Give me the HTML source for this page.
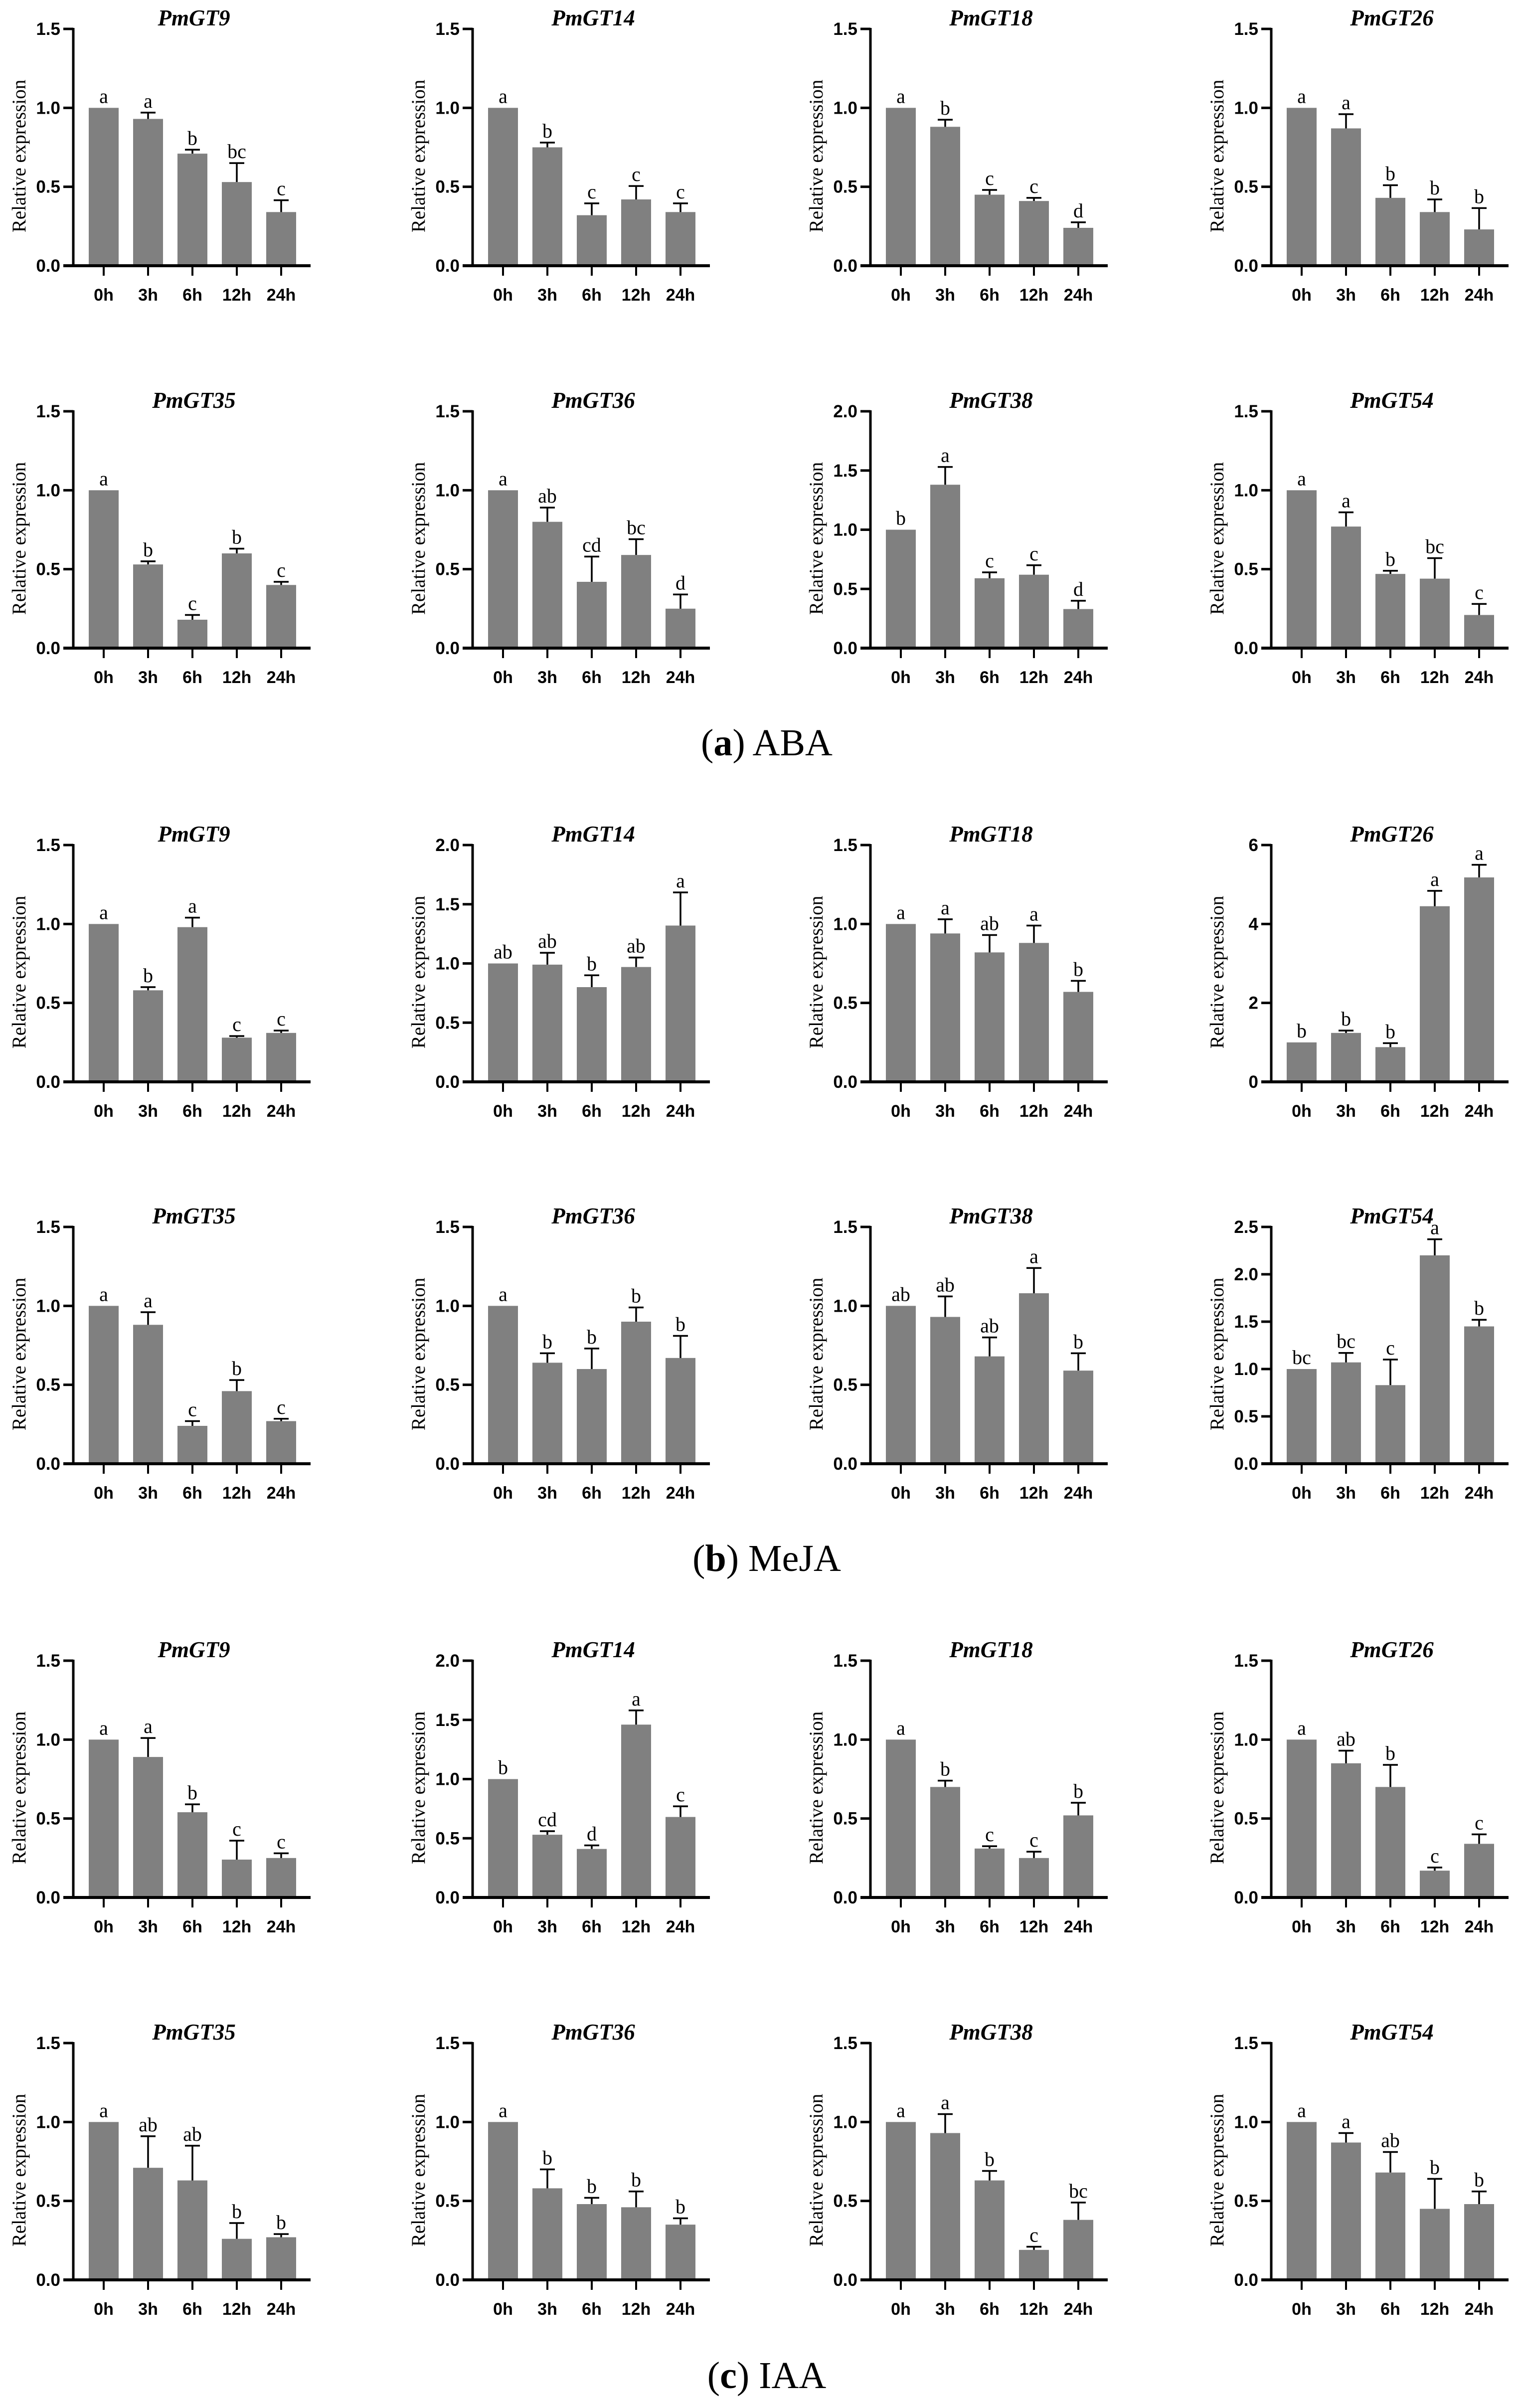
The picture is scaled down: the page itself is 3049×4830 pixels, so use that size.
<!DOCTYPE html>
<html><head><meta charset="utf-8"><style>
html,body{margin:0;padding:0;background:#fff;}
svg{display:block;}
</style></head><body>
<svg id="chart" xmlns="http://www.w3.org/2000/svg" width="3049" height="4830" viewBox="0 0 3049 4830"></svg>
<script>
const timeLabels = ["0h","3h","6h","12h","24h"];
const panelGenes = [
 "PmGT9","PmGT14","PmGT18","PmGT26","PmGT35","PmGT36","PmGT38","PmGT54",
 "PmGT9","PmGT14","PmGT18","PmGT26","PmGT35","PmGT36","PmGT38","PmGT54",
 "PmGT9","PmGT14","PmGT18","PmGT26","PmGT35","PmGT36","PmGT38","PmGT54"];
const panelMax = [1.5,1.5,1.5,1.5,1.5,1.5,2.0,1.5, 1.5,2.0,1.5,6,1.5,1.5,1.5,2.5, 1.5,2.0,1.5,1.5,1.5,1.5,1.5,1.5];
const panelStep = [0.5,0.5,0.5,0.5,0.5,0.5,0.5,0.5, 0.5,0.5,0.5,2,0.5,0.5,0.5,0.5, 0.5,0.5,0.5,0.5,0.5,0.5,0.5,0.5];
const panelValues = [
 [1.0,0.93,0.71,0.53,0.34],[1.0,0.75,0.32,0.42,0.34],[1.0,0.88,0.45,0.41,0.24],[1.0,0.87,0.43,0.34,0.23],
 [1.0,0.53,0.18,0.60,0.40],[1.0,0.80,0.42,0.59,0.25],[1.0,1.38,0.59,0.62,0.33],[1.0,0.77,0.47,0.44,0.21],
 [1.0,0.58,0.98,0.28,0.31],[1.0,0.99,0.80,0.97,1.32],[1.0,0.94,0.82,0.88,0.57],[1.0,1.24,0.88,4.45,5.18],
 [1.0,0.88,0.24,0.46,0.27],[1.0,0.64,0.60,0.90,0.67],[1.0,0.93,0.68,1.08,0.59],[1.0,1.07,0.83,2.20,1.45],
 [1.0,0.89,0.54,0.24,0.25],[1.0,0.53,0.41,1.46,0.68],[1.0,0.70,0.31,0.25,0.52],[1.0,0.85,0.70,0.17,0.34],
 [1.0,0.71,0.63,0.26,0.27],[1.0,0.58,0.48,0.46,0.35],[1.0,0.93,0.63,0.19,0.38],[1.0,0.87,0.68,0.45,0.48]];
const panelErrors = [
 [0,0.04,0.025,0.12,0.075],[0,0.03,0.075,0.085,0.055],[0,0.045,0.03,0.02,0.035],[0,0.09,0.08,0.08,0.135],
 [0,0.02,0.03,0.03,0.02],[0,0.09,0.16,0.10,0.09],[0,0.15,0.05,0.08,0.07],[0,0.09,0.02,0.13,0.07],
 [0,0.02,0.06,0.01,0.015],[0,0.10,0.10,0.08,0.28],[0,0.09,0.11,0.11,0.07],[0,0.06,0.10,0.39,0.32],
 [0,0.08,0.03,0.07,0.015],[0,0.06,0.13,0.09,0.14],[0,0.13,0.12,0.16,0.11],[0,0.10,0.27,0.17,0.07],
 [0,0.12,0.05,0.12,0.03],[0,0.03,0.03,0.12,0.09],[0,0.04,0.015,0.04,0.08],[0,0.08,0.14,0.02,0.06],
 [0,0.20,0.22,0.10,0.02],[0,0.12,0.04,0.10,0.04],[0,0.12,0.06,0.02,0.11],[0,0.06,0.13,0.19,0.08]];
const panelLetters = [
 ["a","a","b","bc","c"],["a","b","c","c","c"],["a","b","c","c","d"],["a","a","b","b","b"],
 ["a","b","c","b","c"],["a","ab","cd","bc","d"],["b","a","c","c","d"],["a","a","b","bc","c"],
 ["a","b","a","c","c"],["ab","ab","b","ab","a"],["a","a","ab","a","b"],["b","b","b","a","a"],
 ["a","a","c","b","c"],["a","b","b","b","b"],["ab","ab","ab","a","b"],["bc","bc","c","a","b"],
 ["a","a","b","c","c"],["b","cd","d","a","c"],["a","b","c","c","b"],["a","ab","b","c","c"],
 ["a","ab","ab","b","b"],["a","b","b","b","b"],["a","a","b","c","bc"],["a","a","ab","b","b"]];
const captions = [["a","ABA"],["b","MeJA"],["c","IAA"]];

const NS = "http://www.w3.org/2000/svg";
const svg = document.getElementById("chart");
const colAxisX = [147, 948, 1746, 2550];
const rowZeroY = [533, 1300, 2170, 2936, 3806, 4573];
const captionY = [1515, 3151, 4790];
const PLOT_H = 475, BAR_W = 60, BAR_STEP = 89, FIRST_BAR = 61, AXIS_END = 476;

function mk(tag, attrs, parent) {
  const e = document.createElementNS(NS, tag);
  for (const k in attrs) e.setAttribute(k, attrs[k]);
  (parent || svg).appendChild(e);
  return e;
}

for (let p = 0; p < panelGenes.length; p++) {
  const ax = colAxisX[p % 4], zy = rowZeroY[Math.floor(p / 4)];
  const max = panelMax[p], step = panelStep[p];
  const yScale = v => zy - v / max * PLOT_H;
  const xScale = i => ax + FIRST_BAR + i * BAR_STEP;
  const g = mk("g", {});
  
  

  const t = mk("text", {x: ax + 242, y: zy - 482, "text-anchor": "middle", "font-family": "Liberation Serif, serif", "font-style": "italic", "font-weight": "bold", "font-size": 45}, g);
  t.textContent = panelGenes[p];
  
  

  const yl = mk("text", {x: 0, y: 0, transform: "translate(" + (ax - 96) + "," + (zy - 220) + ") rotate(-90)", "text-anchor": "middle", "font-family": "Liberation Serif, serif", "font-size": 39}, g);
  yl.textContent = "Relative expression";
  
  

  for (let i = 0; i < 5; i++) {
    const v = panelValues[p][i], e = panelErrors[p][i], cx = xScale(i);
    const r = mk("rect", {x: cx - BAR_W / 2, y: yScale(v), width: BAR_W, height: zy - yScale(v), fill: "#808080"}, g);
    
    
    let top = yScale(v);
    if (e > 0) {
      const ey = yScale(v + e);
      const el = mk("path", {d: "M" + cx + " " + yScale(v) + "V" + ey + "M" + (cx - 15) + " " + ey + "H" + (cx + 15), stroke: "#000", "stroke-width": 3.5, fill: "none"}, g);
      
      
      top = ey;
    }
    const lt = mk("text", {x: cx, y: top - 10, "text-anchor": "middle", "font-family": "Liberation Serif, serif", "font-size": 40}, g);
    lt.textContent = panelLetters[p][i];
    
    
    mk("line", {x1: cx, y1: zy, x2: cx, y2: zy + 20, stroke: "#000", "stroke-width": 4}, g);
    const xl = mk("text", {x: cx, y: zy + 70, "text-anchor": "middle", "font-family": "Liberation Sans, sans-serif", "font-weight": "bold", "font-size": 34}, g);
    xl.textContent = timeLabels[i];
    
    
  }
  const ya = mk("line", {x1: ax, y1: zy - PLOT_H - 2, x2: ax, y2: zy + 2, stroke: "#000", "stroke-width": 5}, g);
  
  
  const xa = mk("line", {x1: ax - 20, y1: zy, x2: ax + AXIS_END, y2: zy, stroke: "#000", "stroke-width": 6}, g);
  
  
  const nT = Math.round(max / step);
  for (let k = 0; k <= nT; k++) {
    const v = k * step, y = yScale(v);
    mk("line", {x1: ax - 20, y1: y, x2: ax, y2: y, stroke: "#000", "stroke-width": 5}, g);
    const tl = mk("text", {x: ax - 26, y: y + 12, "text-anchor": "end", "font-family": "Liberation Sans, sans-serif", "font-weight": "bold", "font-size": 35}, g);
    tl.textContent = step >= 1 ? String(v) : v.toFixed(1);
    
    
  }
}

for (let c = 0; c < captions.length; c++) {
  const ct = mk("text", {x: 1538, y: captionY[c], "text-anchor": "middle", "font-family": "Liberation Serif, serif", "font-size": 76});
  
  
  const a = mk("tspan", {}, ct); a.textContent = "(";
  const b = mk("tspan", {"font-weight": "bold"}, ct); b.textContent = captions[c][0];
  const d = mk("tspan", {}, ct); d.textContent = ") " + captions[c][1];
}
</script>
</body></html>
